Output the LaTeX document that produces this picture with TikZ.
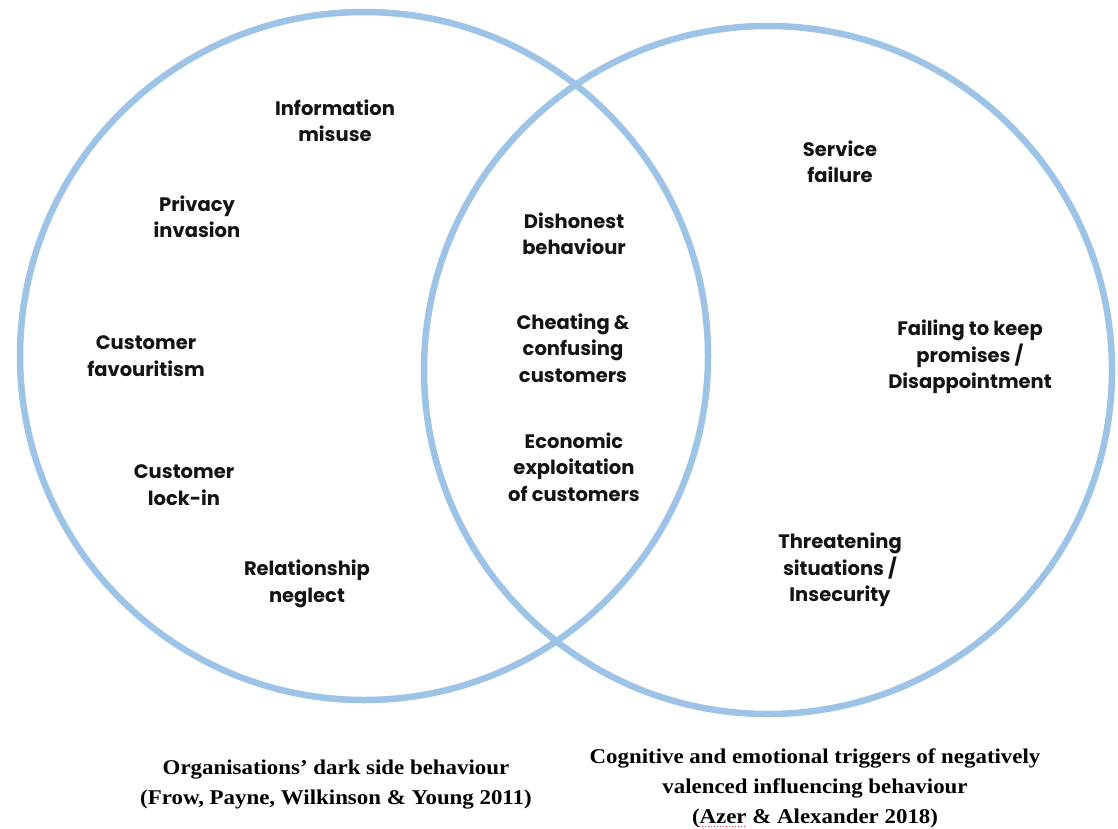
\documentclass[tikz,border=0pt]{standalone}
\usepackage{fontspec}
\setsansfont{Poppins}
\setmainfont{Liberation Serif}[FakeStretch=1.09]
\begin{document}
\begin{tikzpicture}[x=1pt,y=-1pt,
  ring/.style={draw=ringblue, line width=6.5pt},
  item/.style={font=\sffamily\bfseries\fontsize{19.5}{26.5}\selectfont, align=center, inner sep=0pt, text=black!92},
  caption/.style={font=\rmfamily\bfseries\fontsize{21}{30}\selectfont, align=center, inner sep=0pt}]
\definecolor{ringblue}{RGB}{157,195,230}
\useasboundingbox (0,0) rectangle (1118,828);
\fill[white] (0,0) rectangle (1118,828);

% the two overlapping sets
\draw[ring] (364,356) circle[radius=344];
\draw[ring] (768,370) circle[radius=344];

% left set only
\node[item] (infomisuse) at (335,121) {Information\\misuse};
\node[item] (privacy) at (197,217) {Privacy\\invasion};
\node[item] (favour) at (146,356) {Customer\\favouritism};
\node[item] (lockin) at (184,485) {Customer\\lock-in};
\node[item] (neglect) at (307,584) {Relationship\\neglect};

% overlap
\node[item] (dishonest) at (574,234) {Dishonest\\behaviour};
\node[item] (cheating) at (573,348) {Cheating \&\\confusing\\customers};
\node[item] (exploit) at (574,467) {Economic\\exploitation\\of customers};

% right set only
\node[item] (service) at (840,162) {Service\\failure};
\node[item] (promises) at (970,357) {Failing to keep\\promises /\\Disappointment};
\node[item] (threat) at (840,570) {Threatening\\situations /\\Insecurity};

% set captions
\node[caption] (leftcap) at (336,785) {Organisations’ dark side behaviour\\(Frow, Payne, Wilkinson \& Young 2011)};
\node[caption] (rightcap) at (815,788) {Cognitive and emotional triggers of negatively\\valenced influencing behaviour\\(Azer \& Alexander 2018)};

% spell-check mark under "Azer"
\draw[red!80, line width=1pt, dotted] (699,826) -- (746,826);
\end{tikzpicture}
\end{document}
